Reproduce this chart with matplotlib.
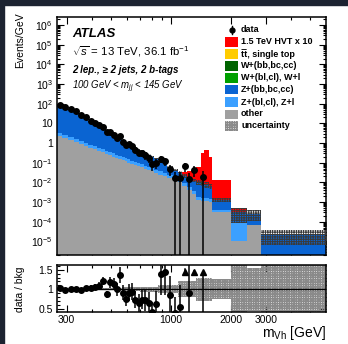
import numpy as np
import matplotlib
matplotlib.use("Agg")
import matplotlib.pyplot as plt
from matplotlib.patches import Rectangle
from matplotlib.lines import Line2D
from matplotlib.ticker import FixedLocator, FuncFormatter, NullFormatter, MultipleLocator

plt.rcParams['font.family'] = ['Liberation Sans', 'DejaVu Sans']
plt.rcParams['mathtext.fontset'] = 'custom'
plt.rcParams['mathtext.rm'] = 'Liberation Sans'
plt.rcParams['mathtext.it'] = 'Liberation Sans:italic'
plt.rcParams['mathtext.bf'] = 'Liberation Sans:bold'
plt.rcParams['hatch.linewidth'] = 0.7

# ---------------- data ----------------
edges = [268, 285, 305, 325, 345, 365, 385, 405, 425, 445, 465, 485, 505, 525, 545,
         565, 585, 605, 625, 650, 675, 700, 730, 760, 790, 825, 865, 910, 960, 1020,
         1080, 1140, 1200, 1270, 1340, 1415, 1470, 1545, 1605, 2000, 2420, 2835, 6000]

other = [2.3, 1.78, 1.38, 1.1, 0.87, 0.71, 0.575, 0.48, 0.4, 0.33, 0.28, 0.24, 0.204, 0.178,
         0.155, 0.135, 0.117, 0.102, 0.089, 0.078, 0.068, 0.058, 0.049, 0.042, 0.036, 0.030,
         0.025, 0.020, 0.016, 0.013, 0.010, 0.0063, 0.004, 0.0025, 0.00126, 0.00112, 0.00112,
         0.001, 0.00032, 0.00001, 0.00007, 0.0]
z_light = [1.04, 0.8, 0.62, 0.5, 0.39, 0.32, 0.26, 0.22, 0.18, 0.15, 0.126, 0.108, 0.092, 0.08,
           0.07, 0.061, 0.053, 0.046, 0.04, 0.035, 0.031, 0.026, 0.022, 0.019, 0.016, 0.0135,
           0.011, 0.009, 0.0072, 0.0058, 0.0045, 0.0025, 0.0016, 0.001, 0.0005, 0.00045,
           0.00045, 0.0004, 0.00005, 0.00009, 0.0, 0.0]
z_heavy = [82.3, 65.9, 48.2, 37.1, 26.8, 17.9, 12.0, 8.5, 6.4, 4.9, 3.7, 2.68, 2.0, 1.6, 1.36,
           1.04, 0.86, 0.76, 0.62, 0.475, 0.38, 0.32, 0.25, 0.195, 0.145, 0.112, 0.074, 0.0525,
           0.0347, 0.0223, 0.0148, 0.0127, 0.01, 0.0085, 0.008, 0.0071, 0.0058, 0.0048,
           0.00086, 0.0002, 0.00018, 0.000022]
w_light = [0.28, 0.22, 0.16, 0.12, 0.09, 0.06, 0.04, 0.029, 0.022, 0.017, 0.013, 0.01, 0.007,
           0.006, 0.005, 0.004, 0.003, 0.003, 0.002, 0.002, 0.0015, 0.0012, 0.001, 0.0008,
           0.0006, 0.0005, 0.0003, 0.00025, 0.0002, 0.00012, 0.00009, 0.00007, 0.00005,
           0.00004, 0.00003, 0.00003, 0.00003, 0.00002, 0.0, 0.0, 0.0, 0.0]
w_heavy = [0.55, 0.43, 0.31, 0.24, 0.17, 0.12, 0.08, 0.057, 0.043, 0.033, 0.025, 0.019, 0.014,
           0.011, 0.01, 0.0075, 0.0063, 0.0056, 0.0046, 0.0036, 0.0029, 0.0025, 0.002, 0.0016,
           0.0012, 0.00095, 0.00067, 0.0005, 0.00035, 0.00025, 0.00018, 0.00013, 0.0001,
           0.00007, 0.00006, 0.00005, 0.00005, 0.00004, 0.00001, 0.0, 0.0, 0.0]
ttbar = [2.5, 1.9, 1.3, 0.95, 0.65, 0.42, 0.27, 0.18, 0.13, 0.09, 0.065, 0.045, 0.032, 0.025,
         0.02, 0.015, 0.012, 0.01, 0.008, 0.006, 0.0045, 0.0035, 0.0028, 0.0022, 0.0017, 0.0013,
         0.001, 0.0008, 0.0006, 0.0005, 0.0004, 0.0003, 0.00025, 0.0002, 0.00015, 0.00012,
         0.0001, 0.00008, 0.00002, 0.0, 0.0, 0.0]
hvt_x10 = [0, 0, 0, 0, 0, 0, 0, 0, 0, 0, 0, 0, 0, 0, 0, 0, 0, 0, 0, 0, 0, 0, 0, 0, 0, 0,
           0.0003, 0.0006, 0.001, 0.002, 0.004, 0.01, 0.02, 0.03, 0.049, 0.29, 0.42, 0.19,
           0.012, 0.0002, 0.0, 0.0]
bkg_rel_unc = [0.02, 0.02, 0.02, 0.02, 0.02, 0.02, 0.02, 0.02, 0.02, 0.03, 0.03, 0.03, 0.03,
               0.03, 0.03, 0.05, 0.05, 0.05, 0.05, 0.05, 0.05, 0.07, 0.07, 0.07, 0.07, 0.07,
               0.1, 0.1, 0.1, 0.1, 0.2, 0.2, 0.2, 0.2, 0.3, 0.3, 0.3, 0.3, 0.25, 0.7, 0.55, 0.7]
data_counts = [1543, 1392, 1040, 816, 563, 406, 275, 201, 157, 134, 73, 73, 53, 38, 44, 23,
               16, 17, 18, 11, 8, 9, 7, 5, 3, 4, 7, 6, 3, 1, 1, 4, 1, 3, 0, 1, 0, 0, 0, 0, 0, 0]

xticks_major = [300, 1000, 2000, 3000]
xtick_labels = ["300", "1000", "2000", "3000"]

# ---------------- derived ----------------
e = np.array(edges, float)
w = np.diff(e)
comps = [np.array(other), np.array(z_light), np.array(z_heavy), np.array(w_light),
         np.array(w_heavy), np.array(ttbar), np.array(hvt_x10)]
colors = ['#a0a0a0', '#3ca0ff', '#0a64d2', '#00a000', '#006400', '#ffcc00', '#ff0000']
bkg = sum(comps[:6])
unc = np.array(bkg_rel_unc)
N = np.array(data_counts, float)
dens = N / w
derr = np.sqrt(N) / w
xc = np.sqrt(e[:-1] * e[1:])
HATCH_COL = '#3a3a3a'

fig = plt.figure(figsize=(3.48, 3.44), dpi=100)
fig.patch.set_facecolor('white')
fig.patches.append(Rectangle((0, 1 - 5 / 344), 1, 5 / 344, transform=fig.transFigure,
                             color='#1c2331', zorder=0))
fig.patches.append(Rectangle((0, 0), 4 / 348, 1, transform=fig.transFigure,
                             color='#1c2331', zorder=0))

ax = fig.add_axes([57 / 348, 1 - 255 / 344, 269 / 348, 238 / 344])
rx = fig.add_axes([57 / 348, 1 - 312 / 344, 269 / 348, 47 / 344])

ymin = 2e-6
base = np.full(len(w), 1e-12)
for c, col in zip(comps, colors):
    top = base + c
    ax.stairs(top, e, baseline=base, fill=True, color=col, lw=0, zorder=2)
    base = top

lo = np.clip(bkg * (1 - unc), 1e-12, None)
hi = bkg * (1 + unc)
ax.stairs(hi, e, baseline=lo, fill=True, facecolor='none', edgecolor=HATCH_COL,
          hatch='+++++++', lw=0, zorder=3)

m = N > 0
ylo = np.where(N[m] > 1, derr[m], dens[m] * 0.99999)
ax.errorbar(xc[m], dens[m], yerr=[ylo, derr[m]], fmt='o', color='black', ms=4,
            elinewidth=1.1, capsize=0, zorder=5)

ax.set_xscale('log')
ax.set_yscale('log')
ax.set_xlim(edges[0], edges[-1])
ax.set_ylim(ymin, 2.6e6)

def yfmt(v, pos):
    n = int(round(np.log10(v)))
    if n == 0:
        return "1"
    if n == 1:
        return "10"
    return r"$10^{%d}$" % n

ax.yaxis.set_major_locator(FixedLocator([10.0 ** k for k in range(-5, 7)]))
ax.yaxis.set_minor_locator(FixedLocator([j * 10.0 ** k for k in range(-6, 7) for j in range(2, 10)]))
ax.yaxis.set_major_formatter(FuncFormatter(yfmt))
ax.yaxis.set_minor_formatter(NullFormatter())
xminor = [400, 500, 600, 700, 800, 900, 4000, 5000]
for a in (ax, rx):
    a.xaxis.set_major_locator(FixedLocator(xticks_major))
    a.xaxis.set_minor_locator(FixedLocator(xminor))
    a.tick_params(which='both', direction='in', top=True, right=True, labelsize=7.5)
    a.tick_params(which='major', length=5, width=0.8)
    a.tick_params(which='minor', length=2.5, width=0.8)
    for s in a.spines.values():
        s.set_linewidth(1.1)
ax.xaxis.set_major_formatter(NullFormatter())
ax.xaxis.set_minor_formatter(NullFormatter())
ax.tick_params(axis='y', pad=3)

# ratio panel
plt.rcParams['hatch.linewidth'] = 1.1
rlo, rhi = 0.42, 1.62
rx.stairs(1 + unc, e, baseline=1 - unc, fill=True, facecolor='none', edgecolor='#8a8a8a',
          hatch='+++++++', lw=0, zorder=2)
rx.axhline(1.0, color='black', lw=1.0, zorder=3)
ratio = dens / bkg
rerr = derr / bkg
inr = m & (ratio <= rhi - 0.05)
rlow = np.where(N[inr] > 1, rerr[inr], ratio[inr])
rx.errorbar(xc[inr], ratio[inr], yerr=[rlow, rerr[inr]], fmt='o', color='black', ms=4,
            elinewidth=1.1, capsize=0, zorder=5)
outr = m & (ratio > rhi - 0.05)
for xi, r, er, n in zip(xc[outr], ratio[outr], rerr[outr], N[outr]):
    low = r - er if n > 1 else 0
    rx.plot([xi, xi], [max(low, rlo), 1.45], color='black', lw=1.1, zorder=5)
rx.plot(xc[outr], np.full(outr.sum(), 1.45), '^', color='black', ms=5, zorder=6)
rx.set_xscale('log')
rx.set_xlim(edges[0], edges[-1])
rx.set_ylim(rlo, rhi)
rx.xaxis.set_major_locator(FixedLocator(xticks_major))
rx.xaxis.set_minor_locator(FixedLocator(xminor))
rx.xaxis.set_major_formatter(FuncFormatter(lambda v, p: xtick_labels[xticks_major.index(int(round(v)))] if int(round(v)) in xticks_major else ""))
rx.xaxis.set_minor_formatter(NullFormatter())
rx.yaxis.set_major_locator(FixedLocator([0.5, 1.0, 1.5]))
rx.yaxis.set_minor_locator(MultipleLocator(0.1))
rx.yaxis.set_major_formatter(FuncFormatter(lambda v, p: {0.5: "0.5", 1.0: "1", 1.5: "1.5"}.get(round(v, 1), "")))
rx.tick_params(axis='x', pad=2)
rx.tick_params(axis='y', pad=3)

# labels
fig.text(20 / 348, 1 - 12 / 344, "Events/GeV", rotation=90, ha='center', va='top', fontsize=7.5)
fig.text(20 / 348, 1 - 289 / 344, "data / bkg", rotation=90, ha='center', va='center', fontsize=7.5)
fig.text(326 / 348, 1 - 333 / 344, r"m$_{\mathrm{Vh}}$ [GeV]", ha='right', va='center', fontsize=10)

fig.text(72 / 348, 1 - 34 / 344, "ATLAS", fontsize=9.5, fontweight='bold', style='italic', va='center')
fig.text(72 / 348, 1 - 52 / 344, r"$\sqrt{s}$ = 13 TeV, 36.1 fb$^{-1}$", fontsize=8.2, va='center')
fig.text(72 / 348, 1 - 70 / 344, "2 lep., \u2265 2 jets, 2 b-tags", fontsize=7,
         fontweight='bold', style='italic', va='center')
fig.text(72 / 348, 1 - 87 / 344, r"100 GeV < $m_{jj}$ < 145 GeV", fontsize=6.9,
         style='italic', va='center')

# legend (manual)
leg_labels = ["1.5 TeV HVT x 10", "t\u0305t, single top", "W+(bb,bc,cc)", "W+(bl,cl), W+l",
              "Z+(bb,bc,cc)", "Z+(bl,cl), Z+l", "other", "uncertainty"]
leg_colors = ['#ff0000', '#ffcc00', '#006400', '#00a000', '#0a64d2', '#3ca0ff', '#a0a0a0', None]
row0 = 30
dy = 12
bx0, bw, bh = 225, 13, 9
yd = 1 - row0 / 344
fig.lines.append(Line2D([231.5 / 348] * 2, [yd - 4 / 344, yd + 4 / 344], color='black', lw=1,
                        transform=fig.transFigure))
fig.lines.append(Line2D([231.5 / 348], [yd], marker='o', ms=3.5, color='black',
                        transform=fig.transFigure))
fig.text(241 / 348, yd, "data", fontsize=6.5, fontweight='bold', va='center')
for i, (lab, col) in enumerate(zip(leg_labels, leg_colors)):
    yc = row0 + dy * (i + 1)
    y0 = 1 - (yc + bh / 2) / 344
    if col is None:
        r = Rectangle((bx0 / 348, y0), bw / 348, bh / 344, transform=fig.transFigure,
                      facecolor='none', edgecolor='#8a8a8a', hatch='+++++++', lw=0)
    else:
        r = Rectangle((bx0 / 348, y0), bw / 348, bh / 344, transform=fig.transFigure,
                      facecolor=col, edgecolor='none')
    fig.patches.append(r)
    fig.text(241 / 348, 1 - yc / 344, lab, fontsize=6.5, fontweight='bold', va='center')

fig.savefig("out.png", dpi=100)
